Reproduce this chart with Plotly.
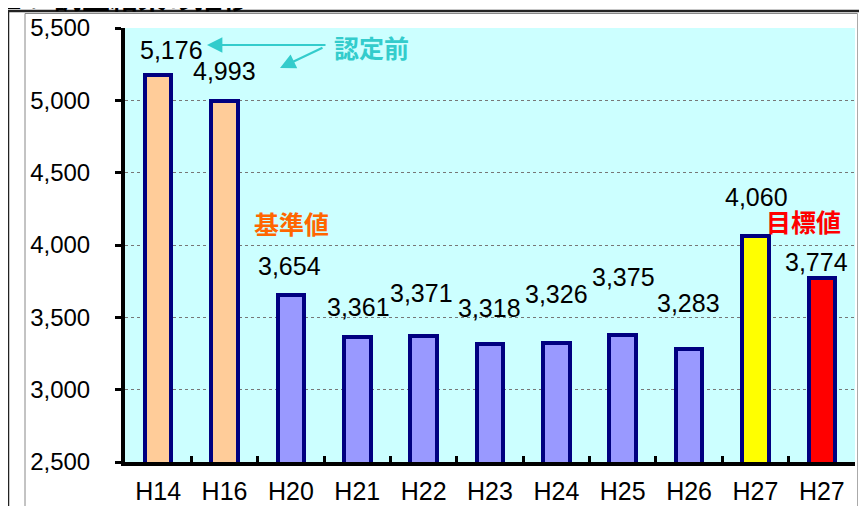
import plotly.graph_objects as go

categories = ["H14", "H16", "H20", "H21", "H22", "H23", "H24", "H25", "H26", "H27", "H27"]
values = [5176, 4993, 3654, 3361, 3371, 3318, 3326, 3375, 3283, 4060, 3774]
bar_colors = ["#FFCC99", "#FFCC99", "#9999FF", "#9999FF", "#9999FF", "#9999FF",
              "#9999FF", "#9999FF", "#9999FF", "#FFFF00", "#FF0000"]
y_ticks = [2500, 3000, 3500, 4000, 4500, 5000, 5500]
title_text = "１．調査結果の推移"

# label placement tweaks (pixels): vertical lift above bar top, horizontal nudge
label_dy = [25, 30, 29, 30, 43, 36, 49, 58, 46, 39, 16]
label_dx = [13, 0, -1, 1, -2, -1, 0, 1, -1, 1, -5]

W, H = 867, 506
OFF = 8  # page body margin offset
PL, PR, PT, PB = 125, 855, 28, 462  # plot area in page pixels
PW, PH = PR - PL, PB - PT
L, T = PL - OFF, PT - OFF
R, B = W - (PR - OFF), H - (PB - OFF)

def px(x):
    return (x - PL) / PW

def py(y):
    return (PB - y) / PH

xs = list(range(len(categories)))
FONT = "Liberation Sans, Arial, sans-serif"
JFONT = "Noto Sans CJK JP"

fig = go.Figure()
fig.add_trace(go.Bar(
    x=xs, y=values, width=0.4,
    marker=dict(color=bar_colors, line=dict(color="#000080", width=4)),
    hoverinfo="skip",
))

ann = []
for x, v, dy, dx in zip(xs, values, label_dy, label_dx):
    ann.append(dict(x=x, y=v, xref="x", yref="y", text=f"{v:,}", showarrow=False,
                    xanchor="center", yanchor="middle", yshift=dy, xshift=dx,
                    font=dict(family=FONT, size=25, color="#000000")))

TEAL = "#33CCCC"
ann += [
    dict(x=px(371), y=py(47), xref="paper", yref="paper", text="<b>認定前</b>", showarrow=False,
         xanchor="center", yanchor="middle",
         font=dict(family=JFONT, size=25, color=TEAL)),
    dict(x=px(207), y=py(45), xref="paper", yref="paper", text="", showarrow=True,
         ax=120, ay=0, arrowhead=2, arrowsize=1.4, arrowwidth=2.2, arrowcolor=TEAL),
    dict(x=px(280), y=py(68), xref="paper", yref="paper", text="", showarrow=True,
         ax=44, ay=-21, arrowhead=2, arrowsize=1.4, arrowwidth=2.2, arrowcolor=TEAL),
    dict(x=px(291), y=py(223), xref="paper", yref="paper", text="<b>基準値</b>", showarrow=False,
         xanchor="center", yanchor="middle",
         font=dict(family=JFONT, size=25, color="#FF6600")),
    dict(x=px(803), y=py(221), xref="paper", yref="paper", text="<b>目標値</b>", showarrow=False,
         xanchor="center", yanchor="middle",
         font=dict(family=JFONT, size=25, color="#FF0000")),
    dict(x=px(-4), y=py(-3), xref="paper", yref="paper", text=f"<b>{title_text}</b>", showarrow=False,
         xanchor="left", yanchor="middle",
         font=dict(family=JFONT, size=28, color="#000000")),
]

shapes = [
    # outer dark frame
    dict(type="line", xref="paper", yref="paper", x0=px(8), x1=px(8), y0=py(10), y1=py(530),
         line=dict(color="#222222", width=2.5)),
    dict(type="line", xref="paper", yref="paper", x0=px(7), x1=px(900), y0=py(11), y1=py(11),
         line=dict(color="#222222", width=2.5)),
    # inner gray frame
    dict(type="line", xref="paper", yref="paper", x0=px(25), x1=px(25), y0=py(13.5), y1=py(530),
         line=dict(color="#888888", width=1)),
    dict(type="line", xref="paper", yref="paper", x0=px(25), x1=px(857.5), y0=py(13.5), y1=py(13.5),
         line=dict(color="#888888", width=1)),
    dict(type="line", xref="paper", yref="paper", x0=px(857.5), x1=px(857.5), y0=py(13.5), y1=py(530),
         line=dict(color="#AAAAAA", width=1)),
]

fig.update_layout(
    width=W, height=H,
    margin=dict(l=L, r=R, t=T, b=B, pad=0, autoexpand=False),
    paper_bgcolor="rgba(0,0,0,0)", plot_bgcolor="#CCFFFF",
    showlegend=False, bargap=0,
    annotations=ann, shapes=shapes,
    font=dict(family=FONT, size=25, color="#000000"),
)
fig.update_xaxes(
    range=[-0.5, len(categories) - 0.5], tickmode="array", tickvals=xs, ticktext=categories,
    ticks="", showgrid=False, zeroline=False, automargin=False,
    showline=True, linecolor="#000000", linewidth=4,
    ticklabelstandoff=4,
    tickfont=dict(family=FONT, size=25, color="#000000"),
    minor=dict(tickmode="array", tickvals=[i + 0.5 for i in xs[:-1]], ticks="inside",
               ticklen=6, tickwidth=3, tickcolor="#000000", showgrid=False),
)
fig.update_yaxes(
    range=[2500, 5500], tickmode="array", tickvals=y_ticks,
    ticktext=[f"{t:,}" for t in y_ticks],
    ticks="outside", ticklen=6, tickwidth=3, tickcolor="#000000",
    showgrid=True, gridcolor="#777777", gridwidth=1, griddash="dot",
    zeroline=False, showline=True, linecolor="#000000", linewidth=4, automargin=False,
    ticklabelstandoff=20,
    tickfont=dict(family=FONT, size=24, color="#000000"),
)

fig.write_html("out.html")
